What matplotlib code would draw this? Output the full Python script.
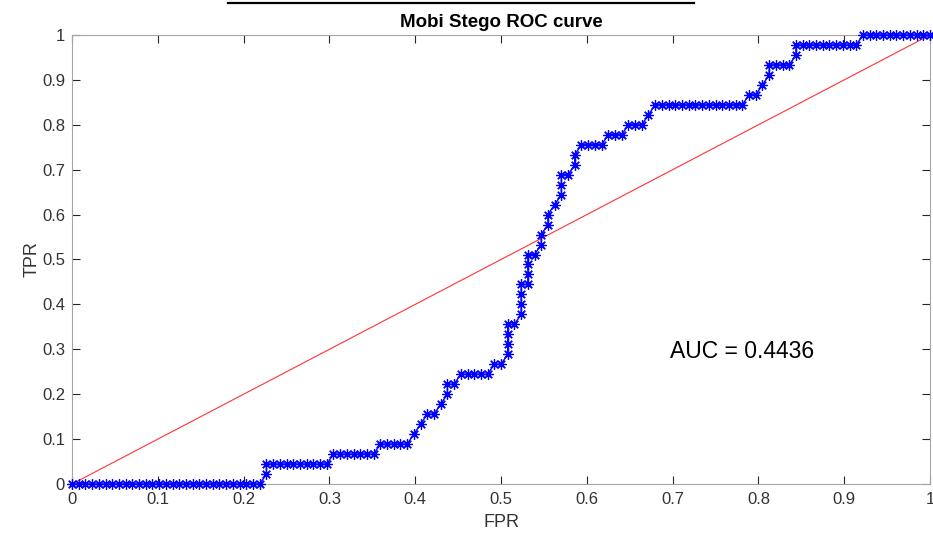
import numpy as np
import matplotlib
matplotlib.use('Agg')
import matplotlib.pyplot as plt
from matplotlib.lines import Line2D

# ROC points, as counts of negatives (fp) and positives (tp)
n_neg = 128
n_pos = 45
fp_count = [0, 1, 2, 3, 4, 5, 6, 7, 8, 9, 10, 11, 12, 13, 14, 15, 16, 17, 18, 19,
            20, 21, 22, 23, 24, 25, 26, 27, 28,
            29,
            29, 30, 31, 32, 33, 34, 35, 36, 37, 38,
            39, 40, 41, 42, 43, 44, 45,
            46, 47, 48, 49, 50,
            51, 52, 53, 54, 55, 56,
            56, 57,
            58, 59, 60, 61, 62,
            63, 64,
            65, 65, 65, 65, 66,
            67, 67, 67, 67, 68,
            68, 68, 68, 69,
            70, 70,
            71, 71, 72,
            73, 73, 73, 74,
            75, 75,
            76, 77, 78, 79,
            80, 81, 82,
            83, 84, 85,
            86,
            87, 88, 89, 90, 91, 92, 93, 94, 95, 96, 97, 98, 99, 100,
            101, 102,
            103, 104,
            104, 105, 106, 107,
            108,
            108, 109, 110, 111, 112, 113, 114, 115, 116, 117,
            118, 119, 120, 121, 122, 123, 124, 125, 126, 127, 128]
tp_count = [0, 0, 0, 0, 0, 0, 0, 0, 0, 0, 0, 0, 0, 0, 0, 0, 0, 0, 0, 0,
            0, 0, 0, 0, 0, 0, 0, 0, 0,
            1,
            2, 2, 2, 2, 2, 2, 2, 2, 2, 2,
            3, 3, 3, 3, 3, 3, 3,
            4, 4, 4, 4, 4,
            5, 6, 7, 7, 8, 9,
            10, 10,
            11, 11, 11, 11, 11,
            12, 12,
            13, 14, 15, 16, 16,
            17, 18, 19, 20, 20,
            21, 22, 23, 23,
            24, 25,
            26, 27, 28,
            29, 30, 31, 31,
            32, 33,
            34, 34, 34, 34,
            35, 35, 35,
            36, 36, 36,
            37,
            38, 38, 38, 38, 38, 38, 38, 38, 38, 38, 38, 38, 38, 38,
            39, 39,
            40, 41,
            42, 42, 42, 42,
            43,
            44, 44, 44, 44, 44, 44, 44, 44, 44, 44,
            45, 45, 45, 45, 45, 45, 45, 45, 45, 45, 45]

fpr = np.array(fp_count) / n_neg
tpr = np.array(tp_count) / n_pos

diag_x = [0, 1]
diag_y = [0, 1]
auc_text = 'AUC = 0.4436'
ticks = [0, 0.1, 0.2, 0.3, 0.4, 0.5, 0.6, 0.7, 0.8, 0.9, 1]
tick_labels = ['0', '0.1', '0.2', '0.3', '0.4', '0.5', '0.6', '0.7', '0.8', '0.9', '1']

plt.rcParams['font.family'] = ['Liberation Sans', 'DejaVu Sans']

fig = plt.figure(figsize=(9.33, 5.34), dpi=100)
ax = fig.add_axes([0.0772, 0.0936, 0.9196, 0.8409])

ax.plot(fpr, tpr, color='blue', linewidth=1.0, marker=(8, 2, 0),
        markersize=7.5, markeredgewidth=0.9, clip_on=False, zorder=3)
ax.plot(diag_x, diag_y, color='red', linewidth=0.8, alpha=0.8, zorder=2)

ax.text(0.697, 0.294, auc_text, fontsize=16.5, color='black', va='center')

ax.set_xlim(0, 1)
ax.set_ylim(0, 1)
ax.set_xticks(ticks)
ax.set_xticklabels(tick_labels)
ax.set_yticks(ticks)
ax.set_yticklabels(tick_labels)
ax.tick_params(direction='in', length=6, width=0.8, top=True, right=True,
               colors='#262626', labelcolor='#333333', labelsize=12)
ax.tick_params(axis='x', pad=6)
ax.tick_params(axis='y', pad=5)
for s in ax.spines.values():
    s.set_color('#a6a6a6')
    s.set_linewidth(0.8)

ax.set_xlabel('FPR', fontsize=13, color='#333333', labelpad=5)
ax.set_ylabel('TPR', fontsize=13, color='#333333', labelpad=1)
ax.set_title('Mobi Stego ROC curve', fontsize=13.5, fontweight='bold', pad=6)

# black rule at the top edge of the original screenshot
fig.add_artist(Line2D([228 / 933, 694 / 933], [1 - 3 / 534, 1 - 3 / 534],
                      color='black', linewidth=1.6))

fig.savefig('out.png', dpi=100)
